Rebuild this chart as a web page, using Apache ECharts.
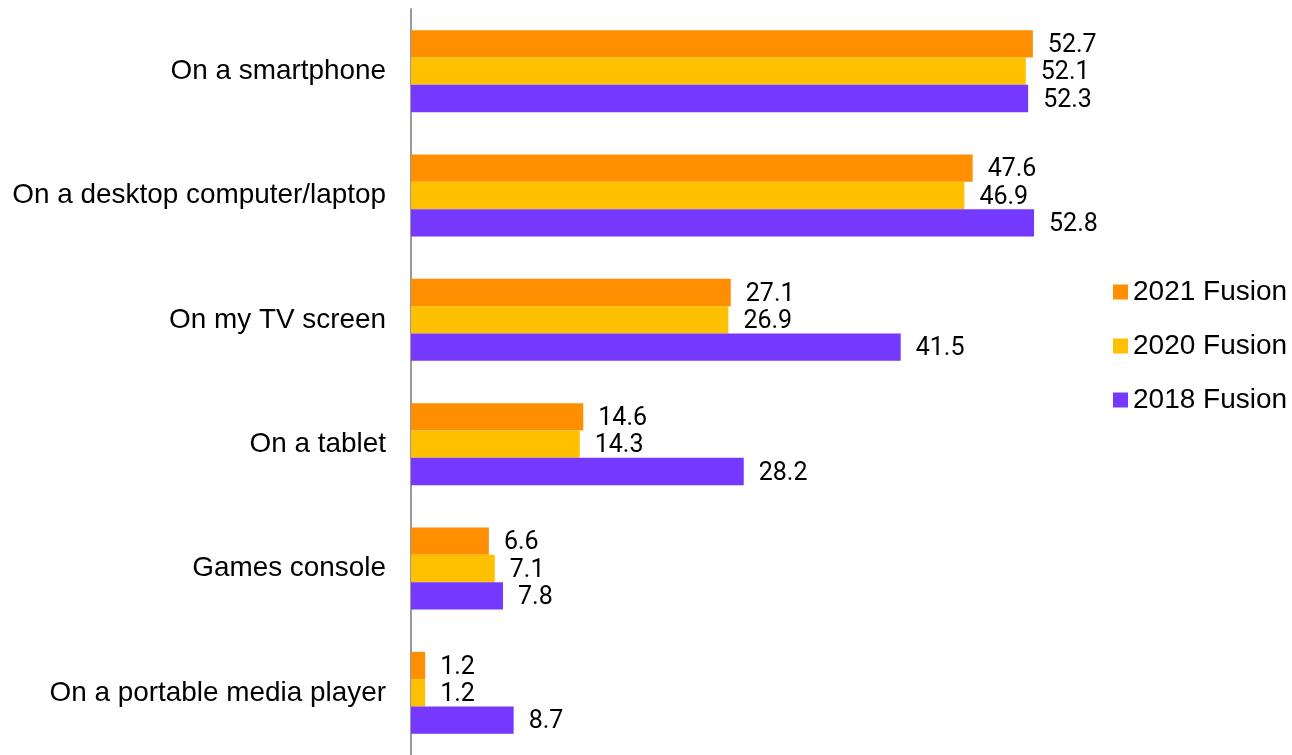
<!DOCTYPE html>
<html>
<head>
<meta charset="utf-8">
<script src="https://cdn.jsdelivr.net/npm/echarts@6/dist/echarts.min.js"></script>
<style>
  html, body { margin: 0; padding: 0; background: #fff; }
  #chart { width: 1292px; height: 755px; }
</style>
</head>
<body>
<div id="chart"></div>
<script>
// Devices used, share of respondents (%)
const categories = [
  'On a smartphone',
  'On a desktop computer/laptop',
  'On my TV screen',
  'On a tablet',
  'Games console',
  'On a portable media player'
];
const seriesNames = ['2021 Fusion', '2020 Fusion', '2018 Fusion'];
const fusion2021 = [52.7, 47.6, 27.1, 14.6, 6.6, 1.2];
const fusion2020 = [52.1, 46.9, 26.9, 14.3, 7.1, 1.2];
const fusion2018 = [52.3, 52.8, 41.5, 28.2, 7.8, 8.7];
const colors = ['#FF8F00', '#FFC000', '#7438FF'];

const chart = echarts.init(document.getElementById('chart'));

function barSeries(name, data, color) {
  return {
    name: name,
    type: 'bar',
    data: data,
    barGap: '0%',
    barCategoryGap: '34%',
    itemStyle: { color: color },
    label: {
      show: true,
      position: 'right',
      distance: 15,
      offset: [0, 2],
      color: '#000',
      fontFamily: 'Roboto',
      fontSize: 25
    }
  };
}

chart.setOption({
  animation: false,
  color: colors,
  grid: { left: 411, top: 9, width: 708, height: 752, containLabel: false },
  xAxis: {
    type: 'value',
    min: 0,
    max: 60,
    show: false
  },
  yAxis: {
    type: 'category',
    data: categories,
    inverse: true,
    axisLine: { show: true, lineStyle: { color: '#999', width: 2 } },
    axisTick: { show: false },
    axisLabel: {
      margin: 25,
      color: '#000',
      fontFamily: 'Liberation Sans, Arial, sans-serif',
      fontSize: 27.9
    }
  },
  legend: {
    orient: 'vertical',
    left: 1108,
    top: 273,
    itemWidth: 15,
    itemHeight: 15,
    itemGap: 26,
    icon: 'rect',
    data: seriesNames,
    textStyle: {
      color: '#000',
      fontFamily: 'Liberation Sans, Arial, sans-serif',
      fontSize: 28
    }
  },
  series: [
    barSeries(seriesNames[0], fusion2021, colors[0]),
    barSeries(seriesNames[1], fusion2020, colors[1]),
    barSeries(seriesNames[2], fusion2018, colors[2])
  ]
});
</script>
</body>
</html>
